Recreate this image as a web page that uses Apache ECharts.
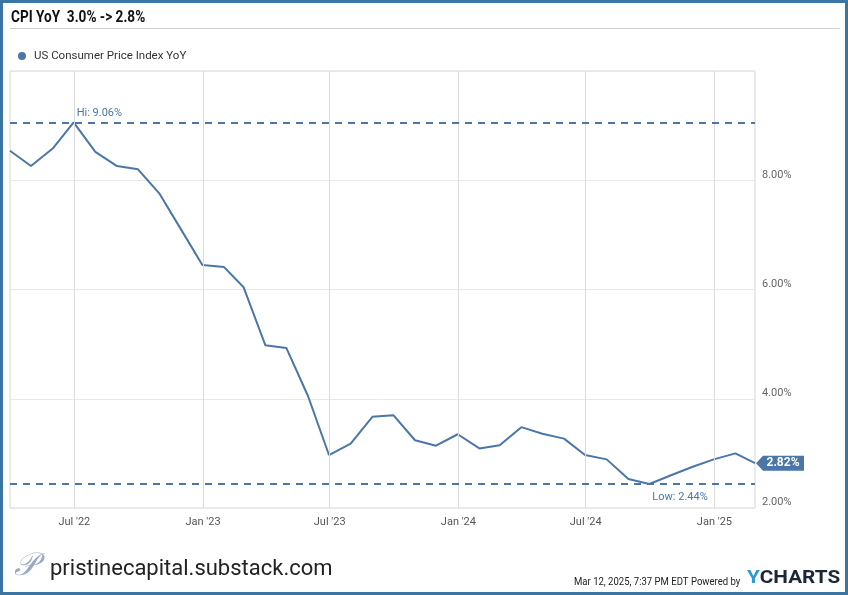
<!DOCTYPE html>
<html>
<head>
<meta charset="utf-8">
<script src="https://cdn.jsdelivr.net/npm/echarts@6/dist/echarts.min.js"></script>
<style>
html,body{margin:0;padding:0;background:#fff;}
#chart{width:848px;height:595px;}
</style>
</head>
<body>
<div id="chart"></div>
<script>
// ---- Data ----
const months = ['2022-03','2022-04','2022-05','2022-06','2022-07','2022-08','2022-09','2022-10','2022-11','2022-12',
  '2023-01','2023-02','2023-03','2023-04','2023-05','2023-06','2023-07','2023-08','2023-09','2023-10','2023-11','2023-12',
  '2024-01','2024-02','2024-03','2024-04','2024-05','2024-06','2024-07','2024-08','2024-09','2024-10','2024-11','2024-12',
  '2025-01','2025-02'];
const cpiYoY = [8.54,8.26,8.58,9.06,8.52,8.26,8.20,7.75,7.11,6.45,
  6.41,6.04,4.98,4.93,4.05,2.97,3.18,3.67,3.70,3.24,3.14,3.35,
  3.09,3.15,3.48,3.36,3.27,2.97,2.89,2.53,2.44,2.60,2.75,2.89,
  3.00,2.82];
const tickDates = ['2022-07-01','2023-01-01','2023-07-01','2024-01-01','2024-07-01','2025-01-01'];
const tickLabels = ["Jul '22","Jan '23","Jul '23","Jan '24","Jul '24","Jan '25"];
const yTicks = [2,4,6,8,10];
const seriesName = 'US Consumer Price Index YoY';
const titleText = 'CPI YoY  3.0% -> 2.8%';

// ---- helpers ----
function monthEnd(s){const [y,m]=s.split('-').map(Number);return Date.UTC(y,m,0);}
function dayTs(s){const [y,m,d]=s.split('-').map(Number);return Date.UTC(y,m-1,d);}
const pts = months.map((m,i)=>[monthEnd(m), cpiYoY[i]]);
const tickTs = tickDates.map(dayTs);
const lastPt = pts[pts.length-1];

const blue = '#4a76a8';
const chart = echarts.init(document.getElementById('chart'), null, {renderer:'canvas'});
chart.setOption({
  animation:false,
  textStyle:{fontFamily:'Roboto'},
  grid:{left:10, right:93, top:71, bottom:87, show:true, borderColor:'#d6d6d6', borderWidth:1},
  legend:{data:[seriesName], left:13, top:45, icon:'circle', itemWidth:8, itemHeight:8, itemGap:10,
    textStyle:{fontSize:11.5, color:'#333', fontFamily:'Roboto', padding:[0,0,0,3]}},
  xAxis:{type:'value', min:pts[0][0], max:lastPt[0],
    axisLine:{show:false}, axisTick:{show:false}, splitLine:{show:false},
    axisLabel:{customValues:tickTs, margin:9, color:'#555', fontSize:11,
      formatter:(v)=>{const i=tickTs.indexOf(v);return i>=0?tickLabels[i]:'';}}},
  yAxis:{type:'value', position:'right', min:yTicks[0], max:yTicks[yTicks.length-1], interval:2,
    axisLine:{show:false}, axisTick:{show:false},
    splitLine:{lineStyle:{color:'#e8e8e8'}},
    axisLabel:{margin:7, color:'#666', fontSize:11, verticalAlign:'bottom',
      formatter:(v)=> v===yTicks[yTicks.length-1] ? '' : v.toFixed(2)+'%'}},
  series:[
    {type:'line', name:'grid', data:[], silent:true, z:1,
      markLine:{silent:true, symbol:'none', label:{show:false},
        lineStyle:{color:'#dcdcdc', type:'solid', width:1},
        data: tickTs.map(t=>({xAxis:t}))}},
    {type:'line', name:seriesName, data:pts, showSymbol:false, symbol:'none', z:3,
      lineStyle:{color:blue, width:2}, itemStyle:{color:blue},
      markLine:{silent:true, symbol:'none', label:{show:false},
        lineStyle:{color:blue, type:[7,6], width:2},
        data:[{type:'max'},{type:'min'}]},
      markPoint:{silent:true,
        data:[
          {type:'max', symbol:'circle', symbolSize:0,
            label:{show:true, position:'right', distance:3, offset:[0,-9], color:blue, fontSize:11,
              formatter:(p)=>'Hi: '+p.value.toFixed(2)+'%'}},
          {type:'min', symbol:'circle', symbolSize:0,
            label:{show:true, position:'right', distance:3, offset:[0,13], color:blue, fontSize:11,
              formatter:(p)=>'Low: '+p.value.toFixed(2)+'%'}},
          {coord:lastPt, value:lastPt[1], symbol:'path://M0,7.5 L7,0 L48,0 L48,15 L7,15 Z',
            symbolSize:[48,15], symbolKeepAspect:false, symbolOffset:[25,0], itemStyle:{color:blue},
            label:{show:true, position:'inside', offset:[3,0], color:'#fff', fontWeight:'bold', fontSize:12,
              formatter:(p)=>p.value.toFixed(2)+'%'}}
        ]}}
  ],
  graphic:[
    {type:'rect', shape:{x:1.5,y:1.5,width:845,height:592}, style:{fill:'none', stroke:'#3b75a3', lineWidth:3}, silent:true},
    {type:'line', shape:{x1:10,y1:28.5,x2:840,y2:28.5}, style:{stroke:'#cfcfcf', lineWidth:1}},
    {type:'text', x:11, y:10, scaleX:0.85,
      style:{text:titleText, font:'bold 16px Roboto', fill:'#111'}},
    {type:'text', x:14, y:551,
      style:{text:'\uD835\uDCAB', font:'italic 32px "DejaVu Serif"', fill:'#9aaac6'}},
    {type:'text', x:50, y:558,
      style:{text:'pristinecapital.substack.com', font:'22px Roboto', fill:'#222'}},
    {type:'text', x:574, y:576, scaleX:0.83,
      style:{text:'Mar 12, 2025, 7:37 PM EDT Powered by', font:'11.5px Roboto', fill:'#222'}},
    {type:'text', x:747, y:569, scaleX:1.15,
      style:{text:'{a|Y}{b|CHARTS}', font:'bold 18px Roboto',
        rich:{a:{fill:'#2a9ad6', fontWeight:'bold', fontSize:18, fontFamily:'Roboto'},
              b:{fill:'#1b2836', fontWeight:'bold', fontSize:18, fontFamily:'Roboto'}}}}
  ]
});
</script>
</body>
</html>
